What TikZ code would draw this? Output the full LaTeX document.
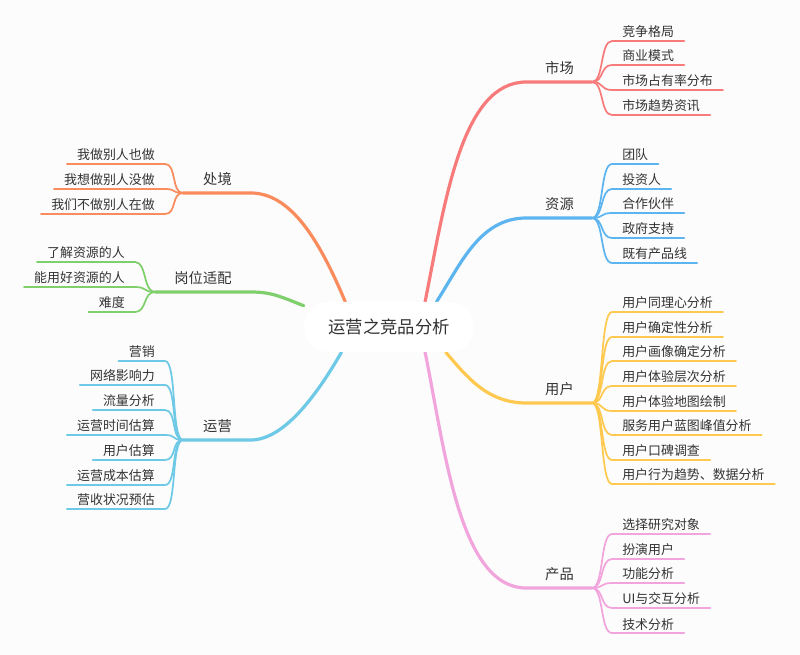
\documentclass[tikz,border=0pt]{standalone}
\usepackage{fontspec}
\newfontfamily\cjk{Noto Sans CJK SC}
\usetikzlibrary{backgrounds}
\definecolor{bgc}{HTML}{FCFCFC}
\definecolor{txt}{HTML}{333333}
\definecolor{scred}{HTML}{F87B7B}
\definecolor{zyblue}{HTML}{5DB5F0}
\definecolor{yhyellow}{HTML}{FFC94F}
\definecolor{cppink}{HTML}{F2A5DC}
\definecolor{cjorange}{HTML}{F98B5C}
\definecolor{gwgreen}{HTML}{7FCF6C}
\definecolor{yycyan}{HTML}{6DC9E5}

\begin{document}
\begin{tikzpicture}[x=0.75pt, y=-0.75pt,
    rootbox/.style={fill=white, rounded corners=18pt, minimum width=127.5pt, minimum height=37.5pt, text=txt, font=\cjk\fontsize{13pt}{15pt}\selectfont},
    topic/.style={anchor=south, inner xsep=14pt, inner ysep=6.5pt, text depth=0pt, text=txt, font=\cjk\fontsize{10.7pt}{13pt}\selectfont},
    kidR/.style={anchor=south west, inner xsep=7.5pt, inner ysep=2.8pt, text depth=0pt, text=txt, font=\cjk\fontsize{9.7pt}{12pt}\selectfont},
    kidL/.style={kidR, anchor=south east},
    mainline/.style={line width=2.4pt, line cap=round},
    kidline/.style={line width=1.3pt, line cap=round}]
    \useasboundingbox (0,0) rectangle (800,655);
    \begin{scope}[on background layer]
        \fill[bgc] (0,0) rectangle (800,655);
    \end{scope}

    % 中心主题
    \node[rootbox] (root) at (389,327) {运营之竞品分析};

    % 分支
    \node[topic] (shichang) at (559.5,82) {市场};
    \node[topic] (ziyuan) at (559.5,218) {资源};
    \node[topic] (yonghu) at (559.5,403) {用户};
    \node[topic] (chanpin) at (559.5,588) {产品};
    \node[topic] (chujing) at (217.5,193) {处境};
    \node[topic] (gangwei) at (203,292) {岗位适配};
    \node[topic] (yunying) at (217.5,440) {运营};

    % 分叉点
    \coordinate (jsc) at (592,82);
    \coordinate (jzy) at (592,218);
    \coordinate (jyh) at (592,403);
    \coordinate (jcp) at (592,588);
    \coordinate (jcj) at (183,193);
    \coordinate (jgw) at (155,292);
    \coordinate (jyy) at (183,440);

    % 主干
    \begin{scope}[on background layer]
        \draw[mainline, scred] (root.35) .. controls +(20,-100) and +(-65,0) .. (shichang.south west) -- (jsc);
        \draw[mainline, zyblue] (root.28) .. controls +(24,-37) and +(-47,0) .. (ziyuan.south west) -- (jzy);
        \draw[mainline, yhyellow] (root.-24) .. controls +(20,23) and +(-40,0) .. (yonghu.south west) -- (jyh);
        \draw[mainline, cppink] (root.-35) .. controls +(20,98) and +(-67,0) .. (chanpin.south west) -- (jcp);
        \draw[mainline, cjorange] (root.150) .. controls +(-26,-62) and +(40,0) .. (chujing.south east) -- (jcj);
        \draw[mainline, gwgreen] (root.166) .. controls +(-25,-10) and +(20,0) .. (gangwei.south east) -- (jgw);
        \draw[mainline, yycyan] (root.208) .. controls +(-22,38) and +(35,0) .. (yunying.south east) -- (jyy);
    \end{scope}

    % 右侧子项
    \foreach \t/\y [count=\i] in {竞争格局/41,商业模式/65,市场占有率分布/90,市场趋势资讯/115}{
        \node[kidR] (sc\i) at (612,\y) {\t};
        \draw[kidline, scred] (jsc) .. controls +(12,0) and +(-12,0) .. (sc\i.south west) -- (sc\i.south east);
    }
    \foreach \t/\y [count=\i] in {团队/164,投资人/189,合作伙伴/213,政府支持/238,既有产品线/263}{
        \node[kidR] (zy\i) at (612,\y) {\t};
        \draw[kidline, zyblue] (jzy) .. controls +(12,0) and +(-12,0) .. (zy\i.south west) -- (zy\i.south east);
    }
    \foreach \t/\y [count=\i] in {用户同理心分析/312,用户确定性分析/337,用户画像确定分析/361,用户体验层次分析/386,用户体验地图绘制/411,服务用户蓝图峰值分析/435,用户口碑调查/460,用户行为趋势、数据分析/484}{
        \node[kidR] (yh\i) at (612,\y) {\t};
        \draw[kidline, yhyellow] (jyh) .. controls +(12,0) and +(-12,0) .. (yh\i.south west) -- (yh\i.south east);
    }
    \foreach \t/\y [count=\i] in {选择研究对象/534,扮演用户/559,功能分析/583,UI与交互分析/608,技术分析/633}{
        \node[kidR] (cp\i) at (612,\y) {\t};
        \draw[kidline, cppink] (jcp) .. controls +(12,0) and +(-12,0) .. (cp\i.south west) -- (cp\i.south east);
    }

    % 左侧子项
    \foreach \t/\y [count=\i] in {我做别人也做/164,我想做别人没做/189,我们不做别人在做/214}{
        \node[kidL] (cj\i) at (165,\y) {\t};
        \draw[kidline, cjorange] (jcj) .. controls +(-12,0) and +(12,0) .. (cj\i.south east) -- (cj\i.south west);
    }
    \foreach \t/\y [count=\i] in {了解资源的人/262,能用好资源的人/287,难度/312}{
        \node[kidL] (gw\i) at (135,\y) {\t};
        \draw[kidline, gwgreen] (jgw) .. controls +(-12,0) and +(12,0) .. (gw\i.south east) -- (gw\i.south west);
    }
    \foreach \t/\y [count=\i] in {营销/361,网络影响力/385,流量分析/410,运营时间估算/435,用户估算/460,运营成本估算/485,营收状况预估/509}{
        \node[kidL] (yy\i) at (165,\y) {\t};
        \draw[kidline, yycyan] (jyy) .. controls +(-12,0) and +(12,0) .. (yy\i.south east) -- (yy\i.south west);
    }
\end{tikzpicture}
\end{document}
